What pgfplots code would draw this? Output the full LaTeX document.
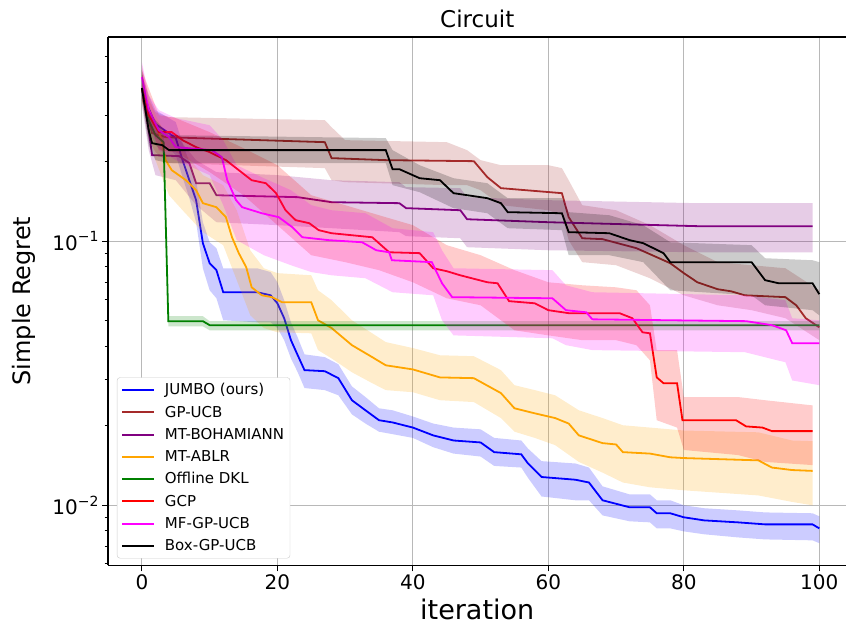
\documentclass[border=0pt]{standalone}
\usepackage{fontspec}
\setmainfont{DejaVu Sans}
\usepackage{pgfplots}
\usepackage{pgfplotstable}
\pgfplotsset{compat=1.18}

\definecolor{mplblue}{rgb}{0,0,1}
\definecolor{mplbrown}{rgb}{0.647,0.165,0.165}
\definecolor{mplpurple}{rgb}{0.5,0,0.5}
\definecolor{mplorange}{rgb}{1,0.647,0}
\definecolor{mplgreen}{rgb}{0,0.5,0}
\definecolor{mplred}{rgb}{1,0,0}
\definecolor{mplmagenta}{rgb}{1,0,1}
\definecolor{mplblack}{rgb}{0,0,0}

% ================= JUMBO (blue)
\pgfplotstableread{
x y
0 0.3798
1 0.3190
2 0.2775
4 0.2566
5 0.2456
6 0.2027
7 0.1702
8 0.1430
9 0.0983
10 0.0825
11 0.0777
12 0.0641
17 0.0641
19 0.0624
20 0.0582
21 0.0511
22 0.0422
23 0.0370
24 0.0325
27 0.0322
29 0.0303
31 0.0250
33 0.0229
35 0.0210
37 0.0206
40 0.0197
43 0.0184
46 0.0176
50 0.0173
52 0.0159
56 0.0156
57 0.0144
59 0.0128
64 0.0125
66 0.0122
68 0.01045
72 0.00983
75 0.00983
76 0.00933
78 0.00933
80 0.00901
83 0.00877
88 0.00862
92 0.00847
99 0.00847
100 0.00818
}\blueM
% band outline: upper edge forward, lower edge backward
\pgfplotstableread{
x y
0 0.4254
1 0.3573
2 0.3135
4 0.2924
5 0.2824
6 0.2350
7 0.1992
8 0.1702
9 0.1180
10 0.0991
11 0.0941
12 0.0790
17 0.0790
19 0.0764
20 0.0699
21 0.0598
22 0.0493
23 0.0432
24 0.0373
27 0.0364
29 0.0342
31 0.0282
33 0.0257
35 0.0233
37 0.0229
40 0.0217
43 0.0204
46 0.0197
50 0.0194
52 0.0180
56 0.0176
57 0.0164
59 0.0147
64 0.0144
66 0.0139
68 0.0118
72 0.0110
75 0.0110
76 0.01045
78 0.01045
80 0.0100
83 0.00975
88 0.00957
92 0.00940
99 0.00933
100 0.00909
100 0.00719
99 0.00737
92 0.00743
88 0.00756
83 0.00777
80 0.00797
78 0.00818
76 0.00818
75 0.00862
72 0.00870
68 0.00916
66 0.01045
64 0.01045
59 0.0108
57 0.0127
56 0.0139
52 0.0141
50 0.0153
46 0.0157
43 0.0166
40 0.0180
37 0.0186
35 0.0190
33 0.0204
31 0.0221
29 0.0261
27 0.0273
24 0.0278
23 0.0319
22 0.0360
21 0.0422
20 0.0469
19 0.0493
17 0.0493
12 0.0502
11 0.0608
10 0.0652
9 0.0790
8 0.1180
7 0.1455
6 0.1747
5 0.2118
4 0.2250
2 0.2456
1 0.2873
0 0.3420
}\blueB

% ================= GP-UCB (brown)
\pgfplotstableread{
x y
0 0.3798
1 0.2873
1.5 0.2566
3.5 0.2477
8 0.2456
27 0.2371
28 0.2063
36 0.2027
49 0.2009
51 0.1747
53 0.1588
62 0.1520
63 0.1233
65 0.1026
68 0.1018
73 0.0941
76 0.0870
78 0.0825
80 0.0757
82 0.0699
85 0.0658
87 0.0646
89 0.0624
95 0.0614
96.6 0.0572
98 0.0511
100 0.0472
}\brownM
\pgfplotstableread{
x y
0 0.4642
1 0.3420
2 0.3081
4 0.2949
27 0.2873
28 0.2702
30 0.2413
45 0.2371
48 0.2212
50 0.2027
53 0.1940
60 0.1940
62 0.1891
63 0.1702
65 0.1369
70 0.1310
75 0.1150
80 0.0966
85 0.0833
90 0.0811
95 0.0790
100 0.0652
100 0.0422
95 0.0511
90 0.0548
85 0.0572
80 0.0624
75 0.0724
70 0.0811
65 0.0833
63 0.1009
62 0.1254
60 0.1310
53 0.1369
50 0.1560
48 0.1630
45 0.1630
30 0.1673
28 0.1702
27 0.1891
4 0.1975
2 0.2174
1 0.2413
0 0.3420
}\brownB

% ================= MT-BOHAMIANN (purple)
\pgfplotstableread{
x y
0 0.3798
1 0.2633
1.5 0.2118
5.5 0.2099
7 0.1975
8 0.1658
10 0.1658
11 0.1493
23 0.1468
28 0.1405
38 0.1393
39 0.1334
47 0.1310
48 0.1211
60 0.1180
82 0.1140
99 0.1140
}\purpleM
\pgfplotstableread{
x y
0 0.4444
1 0.3135
2 0.2633
5 0.2521
8 0.2027
11 0.1826
20 0.1779
28 0.1702
38 0.1673
39 0.1602
47 0.1588
48 0.1468
60 0.1430
82 0.1393
99 0.1393
99 0.0908
82 0.0908
60 0.0924
48 0.0949
47 0.1026
39 0.1045
38 0.1082
28 0.1120
20 0.1150
11 0.1180
8 0.1369
5 0.1702
2 0.1779
1 0.2212
0 0.3274
}\purpleB

% ================= MT-ABLR (orange)
\pgfplotstableread{
x y
0 0.3798
1 0.3135
1.5 0.2873
2.8 0.2477
3.5 0.2027
4.4 0.1858
6.5 0.1702
8 0.1560
9 0.1393
11 0.1345
12.4 0.1233
13.3 0.1035
14.3 0.0901
15.4 0.0797
16.2 0.0669
17.7 0.0624
19.2 0.0614
20.7 0.0587
25 0.0587
26 0.0502
28 0.0469
31 0.0404
34 0.0364
36 0.0339
40 0.0327
44 0.0305
49 0.0303
53 0.0266
55 0.0233
58 0.0223
61 0.0214
63 0.0204
64.5 0.0184
68 0.0172
70 0.0170
71 0.0159
75 0.0157
78 0.0152
80 0.0151
91 0.0148
93 0.0139
96 0.0136
99 0.0135
}\orangeM
\pgfplotstableread{
x y
0 0.4254
2 0.3001
4 0.2413
6 0.2212
9 0.1779
12 0.1630
14 0.1310
16 0.0924
18 0.0790
20 0.0757
25 0.0743
26 0.0652
28 0.0598
31 0.0502
34 0.0448
36 0.0415
40 0.0394
44 0.0370
49 0.0367
53 0.0325
55 0.0285
58 0.0273
61 0.0261
64.5 0.0229
68 0.0214
71 0.0201
75 0.0197
80 0.0192
91 0.0189
96 0.0176
99 0.0175
99 0.0100
96 0.0103
91 0.0109
80 0.0114
75 0.0117
71 0.0122
68 0.0133
64.5 0.0146
61 0.0169
58 0.0180
55 0.0190
53 0.0214
49 0.0246
44 0.0250
40 0.0268
36 0.0273
34 0.0290
31 0.0319
28 0.0360
26 0.0387
25 0.0448
20 0.0452
18 0.0469
16 0.0524
14 0.0712
12 0.0966
9 0.1082
6 0.1310
4 0.1493
2 0.2027
0 0.3420
}\orangeB

% ================= Offline DKL (green)
\pgfplotstableread{
x y
0 0.3798
1 0.2873
2 0.2521
3.2 0.2371
3.9 0.0498
9 0.0498
10 0.0481
100 0.0481
}\greenM
\pgfplotstableread{
x y
0 0.4073
1 0.3135
2 0.2750
3.2 0.2588
3.9 0.0520
9 0.0520
10 0.0498
100 0.0498
100 0.0460
10 0.0460
9 0.0476
3.9 0.0476
3.2 0.2174
2 0.2310
1 0.2633
0 0.3544
}\greenB

% ================= GCP (red)
\pgfplotstableread{
x y
0 0.3798
1 0.3001
2.5 0.2588
4.4 0.2588
6 0.2413
8 0.2270
10 0.2174
12.4 0.2027
14.3 0.1858
16.2 0.1702
18.3 0.1658
19.8 0.1520
21.2 0.1310
22.7 0.1201
24.7 0.1170
26.1 0.1101
28 0.1072
34 0.1035
36.5 0.0908
41 0.0901
43 0.0790
45 0.0770
47 0.0743
51 0.0699
52.5 0.0693
54.2 0.0593
58 0.0582
60 0.0548
63 0.0534
70.5 0.0534
72.4 0.0511
73.9 0.0452
75 0.0448
76 0.0305
77 0.0290
79 0.0290
79.8 0.0210
87.7 0.0210
89.2 0.0199
91.6 0.0197
93 0.0191
99 0.0191
}\redM
\pgfplotstableread{
x y
0 0.4444
2.5 0.3001
5 0.2924
10 0.2588
15 0.2250
20 0.1940
25 0.1493
30 0.1369
35 0.1254
40 0.1150
45 0.0966
50 0.0885
55 0.0777
60 0.0699
65 0.0681
70 0.0669
73 0.0652
75 0.0572
76 0.0387
79 0.0387
80 0.0257
88 0.0257
92 0.0250
99 0.0239
99 0.0142
92 0.0146
88 0.0155
80 0.0162
79 0.0197
76 0.0210
75 0.0354
73 0.0404
70 0.0422
65 0.0422
60 0.0440
55 0.0460
50 0.0572
45 0.0608
40 0.0699
35 0.0777
30 0.0833
25 0.0885
20 0.1150
15 0.1493
10 0.1826
5 0.2174
2.5 0.2212
0 0.3420
}\redB

% ================= MF-GP-UCB (magenta)
\pgfplotstableread{
x y
0 0.4180
1 0.3135
2.5 0.2633
4 0.2477
5 0.2270
10.3 0.2212
11.8 0.2081
12.6 0.1702
13.9 0.1430
14.8 0.1345
17.7 0.1276
20.2 0.1233
22.2 0.1130
23.7 0.1035
27.6 0.1009
32.5 0.0991
34.6 0.0924
36.5 0.0908
36.9 0.0847
42.8 0.0833
44.3 0.0693
45.8 0.0614
60.6 0.0608
62.6 0.0548
65.6 0.0538
66.5 0.0506
89.2 0.0498
93 0.0481
95.1 0.0460
96 0.0411
100 0.0411
}\magentaM
\pgfplotstableread{
x y
0 0.4764
1 0.3573
2.5 0.3135
5 0.2924
10 0.2750
12 0.2413
14 0.1940
18 0.1732
22 0.1560
25 0.1369
28 0.1310
33 0.1276
37 0.1120
43 0.1082
44.3 0.0924
46 0.0790
60.6 0.0777
62.6 0.0681
66.5 0.0641
89 0.0624
95 0.0598
96 0.0511
100 0.0502
100 0.0285
96 0.0297
95 0.0348
89 0.0380
66.5 0.0387
62.6 0.0404
60.6 0.0429
46 0.0440
44.3 0.0502
43 0.0624
37 0.0641
33 0.0724
28 0.0743
25 0.0764
22 0.0811
18 0.0885
14 0.1009
12 0.1369
10 0.1779
5 0.2027
2.5 0.2212
1 0.2750
0 0.3573
}\magentaB

% ================= Box-GP-UCB (black)
\pgfplotstableread{
x y
0 0.3798
1 0.2633
1.5 0.2350
3 0.2310
4 0.2212
36 0.2212
37 0.1874
38 0.1874
41 0.1732
44 0.1702
46 0.1520
51 0.1455
53 0.1393
54 0.1288
62 0.1276
63 0.1082
69 0.1072
72 0.1009
74 0.0983
77 0.0901
78 0.0833
90 0.0833
92 0.0712
94 0.0693
99 0.0693
100 0.0630
}\blackM
\pgfplotstableread{
x y
0 0.4444
1 0.3135
2 0.2873
4 0.2521
36 0.2456
37 0.2212
41 0.1940
46 0.1732
51 0.1658
54 0.1455
62 0.1455
63 0.1288
69 0.1254
74 0.1150
78 0.0991
90 0.0966
92 0.0862
99 0.0847
100 0.0833
100 0.0524
99 0.0548
92 0.0572
90 0.0624
78 0.0652
74 0.0833
69 0.0885
63 0.0885
62 0.1101
54 0.1120
51 0.1276
46 0.1334
41 0.1533
37 0.1630
36 0.1975
4 0.1975
2 0.2027
1 0.2310
0 0.3420
}\blackB

\begin{document}
\begin{tikzpicture}
\path (-108pt,-62pt) rectangle (738pt,565pt);
\begin{axis}[
  at={(0pt,0pt)}, anchor=south west,
  scale only axis, width=738pt, height=528pt,
  xmin=-5, xmax=104,
  ymode=log, ymin=0.00593, ymax=0.593,
  axis x line*=box, axis y line*=left,
  xtick pos=left, ytick pos=left,
  xtick={0,20,40,60,80,100},
  ytick={0.01,0.1},
  yticklabels={10\raisebox{0.42em}{\fontsize{14}{16}\selectfont −2},10\raisebox{0.42em}{\fontsize{14}{16}\selectfont −1}},
  minor ytick={0.006,0.007,0.008,0.009,0.02,0.03,0.04,0.05,0.06,0.07,0.08,0.09,0.2,0.3,0.4,0.5},
  grid=major,
  major grid style={draw=black!28, line width=0.9pt},
  minor grid style={draw=none},
  tick align=outside,
  major tick length=6pt, minor tick length=3.5pt,
  every tick/.style={black, line width=1pt},
  axis line style={line width=1.2pt},
  /pgf/number format/assume math mode=true,
  tick label style={font=\fontsize{20}{24}\selectfont},
  title={Circuit},
  title style={font=\fontsize{23}{27}\selectfont, at={(axis description cs:0.5,1.022)}, anchor=center},
  xlabel={iteration},
  ylabel={Simple Regret},
  xlabel style={font=\fontsize{27}{31}\selectfont, at={(axis description cs:0.5,-0.084)}, anchor=center},
  ylabel style={font=\fontsize{24}{28}\selectfont, at={(axis description cs:-0.114,0.5)}, anchor=center},
  legend style={at={(0.012,0.013)}, anchor=south west,
    font=\fontsize{15}{18}\selectfont, rounded corners=3pt,
    draw=black!20, fill=white,
    row sep=5.6pt, inner sep=4pt, column sep=8pt},
  legend cell align=left,
  legend image code/.code={\draw[#1] (0pt,0pt) -- (32pt,0pt);},
  every axis plot/.append style={line width=1.8pt},
]
% JUMBO
\addplot[fill=mplblue, fill opacity=0.2, draw=none, forget plot] table[x=x,y=y]{\blueB};
\addplot[draw=mplblue] table[x=x,y=y]{\blueM};
\addlegendentry{JUMBO (ours)}
% GP-UCB
\addplot[fill=mplbrown, fill opacity=0.2, draw=none, forget plot] table[x=x,y=y]{\brownB};
\addplot[draw=mplbrown] table[x=x,y=y]{\brownM};
\addlegendentry{GP-UCB}
% MT-BOHAMIANN
\addplot[fill=mplpurple, fill opacity=0.2, draw=none, forget plot] table[x=x,y=y]{\purpleB};
\addplot[draw=mplpurple] table[x=x,y=y]{\purpleM};
\addlegendentry{MT-BOHAMIANN}
% MT-ABLR
\addplot[fill=mplorange, fill opacity=0.2, draw=none, forget plot] table[x=x,y=y]{\orangeB};
\addplot[draw=mplorange] table[x=x,y=y]{\orangeM};
\addlegendentry{MT-ABLR}
% Offline DKL
\addplot[fill=mplgreen, fill opacity=0.2, draw=none, forget plot] table[x=x,y=y]{\greenB};
\addplot[draw=mplgreen] table[x=x,y=y]{\greenM};
\addlegendentry{Offline DKL}
% GCP
\addplot[fill=mplred, fill opacity=0.2, draw=none, forget plot] table[x=x,y=y]{\redB};
\addplot[draw=mplred] table[x=x,y=y]{\redM};
\addlegendentry{GCP}
% MF-GP-UCB
\addplot[fill=mplmagenta, fill opacity=0.2, draw=none, forget plot] table[x=x,y=y]{\magentaB};
\addplot[draw=mplmagenta] table[x=x,y=y]{\magentaM};
\addlegendentry{MF-GP-UCB}
% Box-GP-UCB
\addplot[fill=mplblack, fill opacity=0.2, draw=none, forget plot] table[x=x,y=y]{\blackB};
\addplot[draw=mplblack] table[x=x,y=y]{\blackM};
\addlegendentry{Box-GP-UCB}
\end{axis}
\end{tikzpicture}
\end{document}
